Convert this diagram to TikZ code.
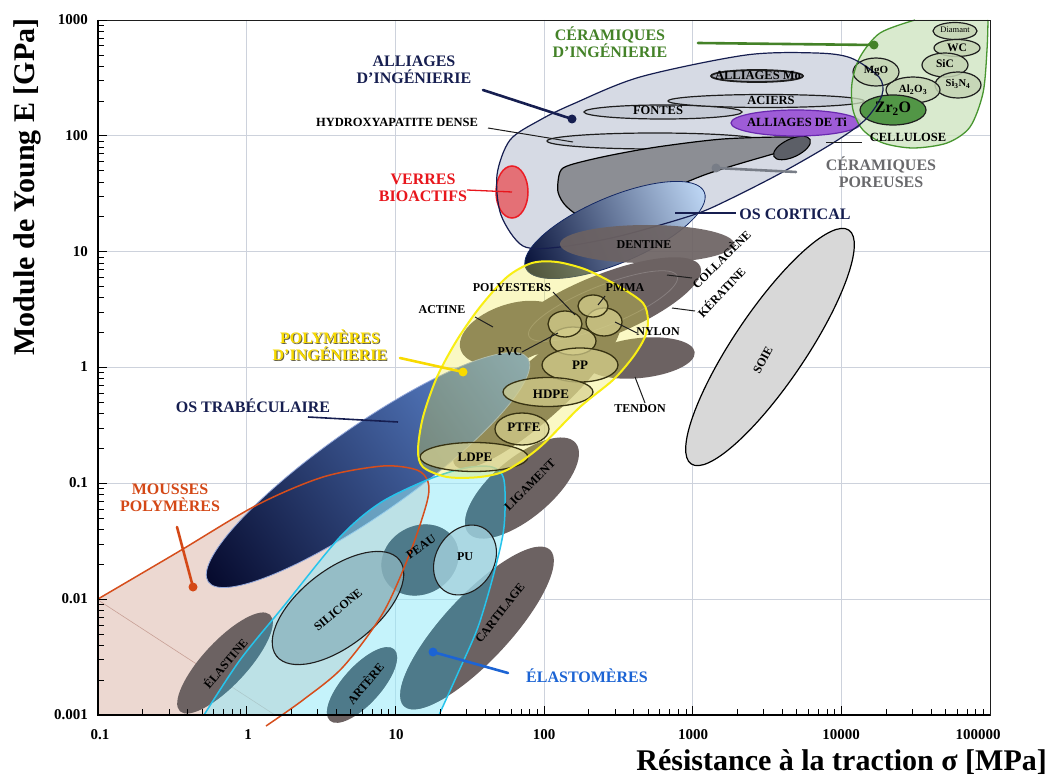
\documentclass[tikz,border=0pt]{standalone}
\usepackage{fontspec}
\setmainfont{Liberation Serif}
\usetikzlibrary{calc}

\definecolor{navyc}{RGB}{22,30,80}
\definecolor{gridc}{RGB}{205,210,220}
\definecolor{moussefill}{RGB}{236,216,209}
\definecolor{mousseline}{RGB}{214,78,28}
\definecolor{tissue}{RGB}{108,98,98}
\definecolor{tealt}{RGB}{78,122,138}
\definecolor{cyanfill}{RGB}{150,234,248}
\definecolor{cyanline}{RGB}{38,196,236}
\definecolor{allfill}{RGB}{214,218,228}
\definecolor{metfill}{RGB}{198,203,214}
\definecolor{mofill}{RGB}{165,168,178}
\definecolor{tifill}{RGB}{158,92,215}
\definecolor{tiline}{RGB}{105,40,175}
\definecolor{porfill}{RGB}{140,142,148}
\definecolor{pordark}{RGB}{92,95,103}
\definecolor{verfill}{RGB}{228,112,118}
\definecolor{verline}{RGB}{236,28,36}
\definecolor{cerfill}{RGB}{205,228,190}
\definecolor{cerline}{RGB}{72,150,48}
\definecolor{cerell}{RGB}{196,212,180}
\definecolor{zrfill}{RGB}{82,150,70}
\definecolor{yelfill}{RGB}{240,235,60}
\definecolor{yelline}{RGB}{248,238,20}
\definecolor{polfill}{RGB}{214,208,142}
\definecolor{polline}{RGB}{55,50,18}
\definecolor{soiefill}{RGB}{216,216,216}
\definecolor{silfill}{RGB}{140,180,190}
\definecolor{pufill}{RGB}{165,210,222}
\definecolor{redlbl}{RGB}{232,22,28}
\definecolor{greenlbl}{RGB}{68,130,40}
\definecolor{graylbl}{RGB}{105,105,108}
\definecolor{orangelbl}{RGB}{212,72,22}
\definecolor{yellbl}{RGB}{248,218,0}
\definecolor{bluelbl}{RGB}{28,100,212}
\definecolor{darkline}{RGB}{30,30,30}
\definecolor{porptr}{RGB}{120,125,135}

\newcommand{\ellip}[5][]{\path[#1,rotate around={#5:(#2)}] (#2) ellipse ({#3} and {#4});}

\newcommand{\cyanpath}{plot[smooth] coordinates {(204,715) (240,660) (283,607) (340,537) (380,503) (427,480) (465,468) (492,467) (504,480) (504,527) (494,573) (478,627) (458,673) (439,715)} -- cycle}
\newcommand{\moussecurve}{plot[smooth] coordinates {(98,599) (178,552) (257,505) (323,477) (383,466) (417,470) (428,482) (427,502) (410,553) (383,613) (343,667) (303,700) (266,726)}}
\newcommand{\yellowpath}{plot[smooth cycle] coordinates {(532,263) (557,262) (587,270) (620,287) (643,303) (648,320) (645,337) (633,357) (613,380) (580,407) (540,447) (507,470) (480,477) (447,477) (423,467) (418,450) (423,417) (437,377) (457,340) (480,307) (507,277)}}
\newcommand{\alliagepath}{plot[smooth cycle] coordinates {(523,246) (501,215) (497,175) (510,140) (540,120) (573,104) (640,77) (746,55) (816,53) (851,58) (879,77) (882,95) (865,120) (833,143) (781,173) (728,200) (693,215) (620,236) (560,247)}}
\newcommand{\greenpath}{plot[smooth] coordinates {(915,20) (880,33) (860,57) (852,83) (853,110) (863,130) (883,143) (913,148) (947,143) (970,127) (983,93) (987,50) (988,20)} -- cycle}

\tikzset{
  biglbl/.style={font=\bfseries\fontsize{16}{17.5}\selectfont, align=center, inner sep=0pt},
  smllbl/.style={font=\bfseries\fontsize{12.5}{13.5}\selectfont, inner sep=0pt},
  tislbl/.style={font=\bfseries\fontsize{12}{13}\selectfont, inner sep=0pt},
  pollbl/.style={font=\bfseries\fontsize{13}{14}\selectfont, inner sep=0pt},
  ticklbl/.style={font=\bfseries\fontsize{15}{16}\selectfont, inner sep=0pt},
  axtitle/.style={font=\bfseries\fontsize{30}{32}\selectfont, inner sep=0pt},
  pointer/.style={line width=2.6pt, line cap=round},
  thinptr/.style={line width=1pt, darkline},
  tis/.style={fill=tissue},
  tealfill/.style={fill=tealt},
  met/.style={fill=metfill, draw=darkline, line width=1.2pt},
  cer/.style={fill=cerell, fill opacity=0.85, draw=darkline, line width=1.2pt},
  pol/.style={fill=polfill, fill opacity=0.7, draw=polline, line width=1.3pt},
}

\begin{document}
\begin{tikzpicture}[x=1pt,y=-1pt]
\useasboundingbox (0,0) rectangle (1050,778);
\fill[white] (0,0) rectangle (1050,778);

% grid
\foreach \k in {1,...,5} {\draw[gridc, line width=1pt] ({98+148.67*\k},20) -- ({98+148.67*\k},715);}
\foreach \j in {1,...,5} {\draw[gridc, line width=1pt] (98,{20+115.83*\j}) -- (990,{20+115.83*\j});}

% mousses polymeres fill
\begin{scope}
  \clip (98,20) rectangle (990,715);
  \fill[moussefill] \moussecurve -- (98,730) -- cycle;
  \draw[draw={rgb,255:red,200;green,160;blue,150}, line width=0.6pt] (98,600) -- (275,715);
\end{scope}

% brown tissues
\ellip[tis]{225,663}{66}{22}{47}
\ellip[tis]{362,685}{48}{19}{48}
\ellip[tis]{420,560}{40}{34}{30}
\ellip[tis]{477,628}{107}{33}{47}
\ellip[tis]{522,488}{70}{30}{40}
\ellip[tis]{640,358}{55}{20}{6}
\ellip[tis]{603,306}{105}{31}{22}
\ellip[tis]{512,333}{54}{29}{18}
\ellip[tis]{537,392}{110}{28}{42}
\ellip[draw=white, draw opacity=0.18, line width=0.8pt]{603,306}{80}{20}{22}

% os trabeculaire
\path[transform canvas={shift={(368,470)},rotate=35},
  left color={rgb,255:red,6;green,10;blue,45},
  middle color={rgb,255:red,22;green,50;blue,158},
  right color={rgb,255:red,100;green,145;blue,222},
  draw={rgb,255:red,150;green,170;blue,220}, line width=0.8pt] (0,0) ellipse (195 and 44);

% elastomeres
\fill[cyanfill, fill opacity=0.55] \cyanpath;
\begin{scope}
  \clip \cyanpath;
  \ellip[tealfill]{225,663}{66}{22}{47}
  \ellip[tealfill]{362,685}{48}{19}{48}
  \ellip[tealfill]{420,560}{40}{34}{30}
  \ellip[tealfill]{477,628}{107}{33}{47}
  \ellip[tealfill]{522,488}{70}{30}{40}
\end{scope}
\ellip[fill=silfill, fill opacity=0.8, draw=darkline, line width=1.1pt]{338,608}{78}{38}{38}
\ellip[fill=pufill, fill opacity=0.8, draw=darkline, line width=1.1pt]{465,560}{37}{29}{58}
\draw[mousseline, line width=1.5pt] \moussecurve;
\draw[cyanline, line width=1.5pt] plot[smooth] coordinates {(204,715) (240,660) (283,607) (340,537) (380,503) (427,480) (465,468) (492,467) (504,480) (504,527) (494,573) (478,627) (458,673) (439,715)};

% alliages d'ingenierie
\fill[allfill] \alliagepath;
\ellip[met]{655,141}{108}{8}{0}
\path[fill=porfill, draw=black, line width=1.2pt] plot[smooth cycle] coordinates {(560,172) (558,192) (567,207) (585,215) (640,201) (707,174) (773,154) (800,147) (809,140) (790,137) (723,139) (657,147) (607,156) (570,165)};
\ellip[fill=pordark, draw=black, line width=1.1pt]{792,148}{20}{9}{25}
\ellip[met]{663,112}{79}{7}{0}
\ellip[met]{766,101}{98}{6.5}{0}
\ellip[fill=mofill, draw=darkline, line width=1.8pt]{757,76}{46}{6}{0}
\ellip[fill=tifill, draw=tiline, line width=1.2pt]{796,123}{65}{13}{0}
\ellip[fill=verfill, draw=verline, line width=1.5pt]{512,192}{16}{26}{0}

% os cortical
\path[transform canvas={shift={(615,230)},rotate=23},
  left color={rgb,255:red,8;green,18;blue,58},
  middle color={rgb,255:red,28;green,68;blue,165},
  right color={rgb,255:red,190;green,215;blue,245},
  draw={rgb,255:red,20;green,40;blue,100}, line width=0.8pt] (0,0) ellipse (97 and 33);

% ceramiques d'ingenierie
\fill[cerfill, fill opacity=0.75] \greenpath;
\ellip[cer]{955,31}{22}{8.5}{0}
\ellip[cer]{957,48}{23}{8.5}{0}
\ellip[cer]{945,65}{23}{12}{0}
\ellip[cer]{958,85}{23}{13}{0}
\ellip[cer]{913,90}{27}{13}{0}
\ellip[cer]{876,72}{23}{14}{0}
\ellip[fill=zrfill, draw=darkline, line width=1.2pt]{893,110}{33}{15}{0}
\draw[cerline, line width=1.3pt] plot[smooth] coordinates {(915,20) (880,33) (860,57) (852,83) (853,110) (863,130) (883,143) (913,148) (947,143) (970,127) (983,93) (987,50) (988,20)};

\draw[navyc, line width=1.2pt] \alliagepath;

% dentine
\ellip[fill=tissue, fill opacity=0.92]{647,244}{87}{19}{0}

% polymeres d'ingenierie
\fill[yelfill, fill opacity=0.3] \yellowpath;
\ellip[pol]{573,341}{23}{14}{0}
\ellip[pol]{565,324}{17}{13}{0}
\ellip[pol]{604,322}{18}{14}{0}
\ellip[pol]{593,306}{15}{11}{0}
\ellip[pol]{580,365}{38}{17}{0}
\ellip[pol]{548,392}{45}{14.5}{0}
\ellip[pol]{522,429}{27}{16}{0}
\ellip[pol]{474,457}{54}{14.5}{0}
\draw[yelline, line width=2pt] \yellowpath;

% soie
\ellip[fill=soiefill, draw=black, line width=1.2pt]{770,347}{141}{36}{56}

% frame and ticks
\draw[darkline, line width=0.8pt] (98,20) rectangle (990,715);
\draw[black, line width=1.6pt] (98,20) -- (98,715) -- (990,715);
\foreach \j in {0,...,5} {
  \draw[black, line width=0.8pt] (98,{20+115.83*\j}) -- (107,{20+115.83*\j});
  \foreach \m in {2,...,9} {
    \pgfmathsetmacro\yy{20+115.83*\j+115.83*(1-log10(\m))}
    \draw[black, line width=0.7pt] (98,\yy) -- (104,\yy);
  }
}
\foreach \k in {0,...,5} {
  \draw[black, line width=0.8pt] ({98+148.67*\k},715) -- ({98+148.67*\k},706);
  \foreach \m in {2,...,9} {
    \pgfmathsetmacro\xx{98+148.67*\k+148.67*log10(\m)}
    \draw[black, line width=0.7pt] (\xx,715) -- (\xx,709);
  }
}

% tick labels
\node[ticklbl, anchor=east] (y1000) at (88,20) {1000};
\node[ticklbl, anchor=east] (y100) at (88,136) {100};
\node[ticklbl, anchor=east] (y10) at (88,252) {10};
\node[ticklbl, anchor=east] (y1) at (88,367) {1};
\node[ticklbl, anchor=east] (y01) at (88,483) {0.1};
\node[ticklbl, anchor=east] (y001) at (88,599) {0.01};
\node[ticklbl, anchor=east] (y0001) at (88,715) {0.001};
\node[ticklbl] (x01) at (100,735) {0.1};
\node[ticklbl] (x1) at (248,735) {1};
\node[ticklbl] (x10) at (396,735) {10};
\node[ticklbl] (x100) at (544,735) {100};
\node[ticklbl] (x1000) at (693,735) {1000};
\node[ticklbl] (x10000) at (841,735) {10000};
\node[ticklbl] (x100000) at (978,735) {100000};

% axis titles
\node[axtitle, rotate=90] (ytitle) at (27,187) {Module de Young E [GPa]};
\node[axtitle, anchor=east] (xtitle) at (1047,762) {Résistance à la traction σ [MPa]};

% small labels inside shapes
\node[tislbl, rotate=50] (tElast) at (225,663) {ÉLASTINE};
\node[tislbl, rotate=50] (tArt) at (365,683) {ARTÈRE};
\node[tislbl, rotate=35] (tPeau) at (421,547) {PEAU};
\node[tislbl] (tPU) at (465,557) {PU};
\node[tislbl, rotate=40] (tSil) at (338,610) {SILICONE};
\node[tislbl, rotate=45] (tLig) at (530,485) {LIGAMENT};
\node[tislbl, rotate=52] (tCart) at (500,613) {CARTILAGE};
\node[tislbl, rotate=62] (tSoie) at (763,360) {SOIE};
\node[tislbl] (tDent) at (644,245) {DENTINE};
\node[tislbl, rotate=45] (tColl) at (721,259) {COLLAGÈNE};
\node[tislbl, rotate=47] (tKer) at (721,292) {KÉRATINE};
\node[tislbl] (tTend) at (640,409) {TENDON};
\node[tislbl] (tNyl) at (658,332) {NYLON};
\node[tislbl] (tPMMA) at (625,288) {PMMA};
\node[tislbl] (tPolyE) at (512,288) {POLYESTERS};
\node[tislbl] (tAct) at (442,310) {ACTINE};
\node[tislbl] (tPVC) at (510,352) {PVC};
\node[pollbl] (tPP) at (580,365) {PP};
\node[pollbl] (tHDPE) at (551,394) {HDPE};
\node[pollbl] (tPTFE) at (524,427) {PTFE};
\node[pollbl] (tLDPE) at (475,457) {LDPE};

\node[smllbl] (tMo) at (758,75) {ALLIAGES Mo};
\node[smllbl] (tFon) at (658,110) {FONTES};
\node[smllbl] (tAci) at (771,100) {ACIERS};
\node[smllbl] (tTi) at (797,122) {ALLIAGES DE Ti};
\node[smllbl] (tHA) at (397,122) {HYDROXYAPATITE DENSE};
\node[smllbl] (tCell) at (908,137) {CELLULOSE};

\node[font=\fontsize{8.5}{9}\selectfont, inner sep=0pt] (tDia) at (955,30) {Diamant};
\node[font=\bfseries\fontsize{11.5}{12}\selectfont, inner sep=0pt] (tWC) at (957,48) {WC};
\node[font=\bfseries\fontsize{11.5}{12}\selectfont, inner sep=0pt] (tSiC) at (945,64) {SiC};
\node[font=\bfseries\fontsize{10.5}{12}\selectfont, inner sep=0pt] (tSiN) at (958,84) {Si\textsubscript{3}N\textsubscript{4}};
\node[font=\bfseries\fontsize{11}{12}\selectfont, inner sep=0pt] (tAl) at (913,90) {Al\textsubscript{2}O\textsubscript{3}};
\node[font=\bfseries\fontsize{11}{12}\selectfont, inner sep=0pt] (tMgO) at (876,71) {MgO};
\node[font=\bfseries\fontsize{16}{17}\selectfont, inner sep=0pt] (tZr) at (893,109) {Zr\textsubscript{2}O};

% thin pointers
\coordinate (pHA1) at (488,128); \coordinate (pHA2) at (573,142);
\draw[thinptr] (pHA1) -- (pHA2);
\coordinate (pCo1) at (667,275); \coordinate (pCo2) at (692,278);
\draw[thinptr] (pCo1) -- (pCo2);
\coordinate (pKe1) at (672,308); \coordinate (pKe2) at (695,311);
\draw[thinptr] (pKe1) -- (pKe2);
\coordinate (pTe1) at (635,377); \coordinate (pTe2) at (645,403);
\draw[thinptr] (pTe1) -- (pTe2);
\coordinate (pNy1) at (615,322); \coordinate (pNy2) at (637,333);
\draw[thinptr] (pNy1) -- (pNy2);
\coordinate (pPM1) at (605,296); \coordinate (pPM2) at (598,305);
\draw[thinptr] (pPM1) -- (pPM2);
\coordinate (pPE1) at (553,292); \coordinate (pPE2) at (575,315);
\draw[thinptr] (pPE1) -- (pPE2);
\coordinate (pAc1) at (475,317); \coordinate (pAc2) at (493,327);
\draw[thinptr] (pAc1) -- (pAc2);
\coordinate (pPV1) at (522,352); \coordinate (pPV2) at (558,333);
\draw[thinptr] (pPV1) -- (pPV2);
\coordinate (pCe1) at (826,143); \coordinate (pCe2) at (862,143);
\draw[thinptr] (pCe1) -- (pCe2);

% big labels and pointers
\node[biglbl, navyc] (lAll) at (414,70) {ALLIAGES\\D'INGÉNIERIE};
\coordinate (pAl1) at (483,90); \coordinate (pAl2) at (572,119);
\draw[pointer, navyc] (pAl1) -- (pAl2); \fill[navyc] (pAl2) circle (4.5);

\node[biglbl, greenlbl] (lCer) at (610,42) {CÉRAMIQUES\\D'INGÉNIERIE};
\coordinate (pCr1) at (698,43); \coordinate (pCr2) at (874,45);
\draw[pointer, greenlbl] (pCr1) -- (pCr2); \fill[greenlbl] (pCr2) circle (4.5);

\node[biglbl, graylbl] (lPor) at (881,172) {CÉRAMIQUES\\POREUSES};
\coordinate (pPo1) at (716,168); \coordinate (pPo2) at (796,172);
\draw[pointer, porptr] (pPo1) -- (pPo2); \fill[porptr] (pPo1) circle (4.5);

\node[biglbl, redlbl] (lVer) at (423,188) {VERRES\\BIOACTIFS};
\coordinate (pVe1) at (467,190); \coordinate (pVe2) at (512,192);
\draw[redlbl, line width=1.3pt] (pVe1) -- (pVe2);

\node[biglbl, navyc] (lOsc) at (795,214) {OS CORTICAL};
\coordinate (pOc1) at (675,213); \coordinate (pOc2) at (736,213);
\draw[navyc, line width=1.8pt] (pOc1) -- (pOc2);

\node[biglbl, black!70!yellow] (lPolS) at (331,346) {POLYMÈRES\\D'INGÉNIERIE};
\node[biglbl, yellbl] (lPol) at (330,345) {POLYMÈRES\\D'INGÉNIERIE};
\coordinate (pPy1) at (400,358); \coordinate (pPy2) at (463,372);
\draw[pointer, yellbl] (pPy1) -- (pPy2); \fill[yellbl] (pPy2) circle (4.5);

\node[biglbl, navyc] (lTra) at (253,406) {OS TRABÉCULAIRE};
\coordinate (pTr1) at (308,417); \coordinate (pTr2) at (398,422);
\draw[navyc, line width=1.6pt] (pTr1) -- (pTr2);

\node[biglbl, orangelbl] (lMou) at (170,498) {MOUSSES\\POLYMÈRES};
\coordinate (pMo1) at (177,527); \coordinate (pMo2) at (193,587);
\draw[pointer, orangelbl] (pMo1) -- (pMo2); \fill[orangelbl] (pMo2) circle (4.5);

\node[biglbl, bluelbl] (lEla) at (587,676) {ÉLASTOMÈRES};
\coordinate (pEl1) at (508,673); \coordinate (pEl2) at (433,652);
\draw[pointer, bluelbl] (pEl1) -- (pEl2); \fill[bluelbl] (pEl2) circle (4.5);

\end{tikzpicture}
\end{document}
